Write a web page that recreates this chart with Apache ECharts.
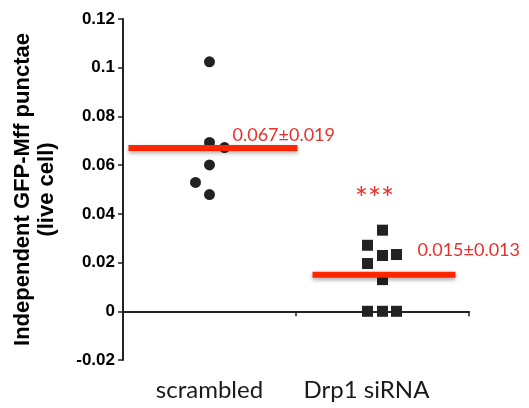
<!DOCTYPE html>
<html>
<head>
<meta charset="utf-8">
<script src="https://cdn.jsdelivr.net/npm/echarts@6/dist/echarts.min.js"></script>
<style>html,body{margin:0;padding:0;background:#fff;}#c{width:529px;height:408px;}</style>
</head>
<body>
<div id="c"></div>
<script>
// ---- data ----
var categories = ['scrambled', 'Drp1 siRNA'];
var scrambledValues = [0.1024, 0.0693, 0.0672, 0.0601, 0.0529, 0.0479];
var drp1Values = [0.0333, 0.0271, 0.0229, 0.0233, 0.0196, 0.013, 0, 0, 0];
var means = [0.067, 0.015];
var sds = [0.019, 0.013];
var significance = ['', '***'];
var yTicks = { min: -0.02, max: 0.12, interval: 0.02 };

// ---- style (pixel jitter / layout, not data) ----
var scrambledJitter = [0, 0, 15, 0, -14, 0];
var drp1Jitter = [0, -15, 0, 14, -15, 0, -15, 0, 14];
var lineExtent = [[-81, 88], [-70, 73]];
var labelOffset = [[23, -13], [35, -25]];
var sigOffsetAboveMax = 38;
var catLabelPadRight = [0, 32];

var red = '#ff2600';
var textRed = '#e8302a';
var dark = '#222222';

function pts(vals, jit, cat) {
  return vals.map(function (v, i) {
    return { value: [cat, v], symbolOffset: [jit[i], 0] };
  });
}
var groupMax = [Math.max.apply(null, scrambledValues), Math.max.apply(null, drp1Values)];

var meanData = means.map(function (m, i) { return [i, m, sds[i]]; });

var chart = echarts.init(document.getElementById('c'), null, { renderer: 'canvas' });
chart.setOption({
  animation: false,
  grid: { left: 123, right: 60, top: 19, bottom: 48, containLabel: false, outerBoundsMode: 'none' },
  xAxis: {
    type: 'category',
    data: categories,
    boundaryGap: true,
    axisLine: { lineStyle: { color: dark, width: 2 } },
    axisTick: { show: true, length: 5, lineStyle: { color: dark, width: 1.5 } },
    axisLabel: {
      interval: 0, hideOverlap: false,
      color: '#1a1a1a', fontFamily: 'Lato', fontSize: 24, margin: 18,
      formatter: function (v, i) { return '{c' + i + '|' + v + '}'; },
      rich: {
        c0: { color: '#1a1a1a', fontFamily: 'Lato', fontSize: 24, padding: [0, catLabelPadRight[0], 0, 0] },
        c1: { color: '#1a1a1a', fontFamily: 'Lato', fontSize: 24, padding: [0, catLabelPadRight[1], 0, 0] }
      }
    }
  },
  yAxis: {
    type: 'value',
    min: yTicks.min, max: yTicks.max, interval: yTicks.interval,
    name: 'Independent GFP-Mff punctae\n(live cell)',
    nameLocation: 'middle',
    nameGap: 64,
    nameTextStyle: { color: '#000', fontFamily: 'Liberation Sans', fontWeight: 'bold', fontSize: 22, lineHeight: 24 },
    splitLine: { show: false },
    axisLine: { show: true, lineStyle: { color: dark, width: 2 } },
    axisTick: { show: true, length: 5, lineStyle: { color: dark, width: 1.5 } },
    axisLabel: { color: '#000', fontFamily: 'Liberation Sans', fontWeight: 'bold', fontSize: 17, margin: 8 }
  },
  series: [
    {
      type: 'scatter', symbol: 'circle', symbolSize: 11,
      itemStyle: { color: dark, opacity: 1 },
      data: pts(scrambledValues, scrambledJitter, 0), z: 2
    },
    {
      type: 'scatter', symbol: 'rect', symbolSize: 11,
      itemStyle: { color: dark, opacity: 1 },
      data: pts(drp1Values, drp1Jitter, 1), z: 2
    },
    {
      type: 'custom', z: 5,
      data: meanData,
      renderItem: function (params, api) {
        var i = api.value(0);
        var p = api.coord([i, api.value(1)]);
        var ext = lineExtent[i];
        var off = labelOffset[i];
        var children = [
          {
            type: 'rect',
            shape: { x: p[0] + ext[0], y: p[1] - 3, width: ext[1] - ext[0], height: 6 },
            style: { fill: red, shadowBlur: 4, shadowColor: 'rgba(0,0,0,0.35)', shadowOffsetY: 2 }
          },
          {
            type: 'text',
            x: p[0] + off[0], y: p[1] + off[1],
            style: {
              text: means[i].toFixed(3) + '\u00b1' + api.value(2).toFixed(3),
              fill: textRed, font: '18px Lato', align: 'left', verticalAlign: 'middle'
            }
          }
        ];
        if (significance[i]) {
          var top = api.coord([i, groupMax[i]]);
          children.push({
            type: 'text',
            x: top[0] - 8, y: top[1] - sigOffsetAboveMax + 7,
            style: { text: significance[i], fill: textRed, font: '31px Lato', align: 'center', verticalAlign: 'middle' }
          });
        }
        return { type: 'group', children: children };
      }
    }
  ]
});
</script>
</body>
</html>
